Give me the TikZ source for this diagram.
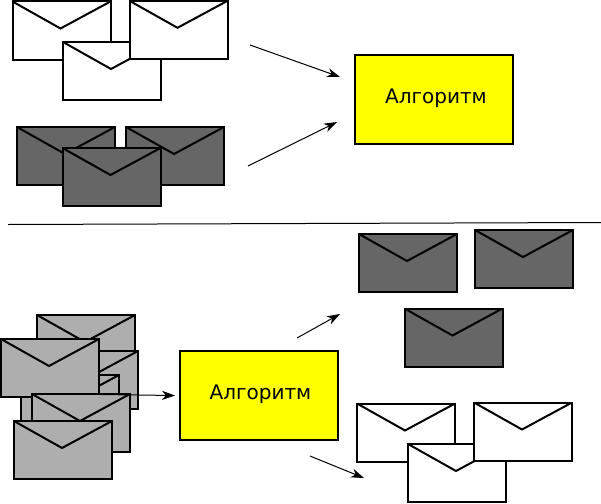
\documentclass[tikz,border=0pt]{standalone}
\usepackage{fontspec}
\setmainfont{DejaVu Sans}
\usetikzlibrary{arrows.meta,calc}
\definecolor{darkenv}{RGB}{102,102,102}
\definecolor{greyenv}{RGB}{174,174,174}
\definecolor{boxyellow}{RGB}{255,255,0}
\tikzset{
  envelope/.style={draw=black,line width=2pt,minimum width=98pt,minimum height=58pt,inner sep=0pt,outer sep=0pt,anchor=north west,
    path picture={\draw[line width=2pt,line join=miter] (path picture bounding box.north west) -- ($(path picture bounding box.north west)+(48pt,-27pt)$) -- (path picture bounding box.north east);}},
  whiteenv/.style={envelope,fill=white},
  darkone/.style={envelope,fill=darkenv},
  greyone/.style={envelope,fill=greyenv},
  algbox/.style={draw=black,line width=2pt,fill=boxyellow,minimum width=158.5pt,minimum height=89pt,inner sep=0pt,outer sep=0pt,anchor=north west},
  algtext/.style={inner sep=0pt,font=\fontsize{20pt}{24pt}\selectfont},
  flow/.style={draw=black,line width=1pt,-{Stealth[length=13pt,width=9pt,inset=4pt]}},
}
\begin{document}
\begin{tikzpicture}[x=1pt,y=-1pt]
\useasboundingbox (0,0) rectangle (601,503);
% top white
\node[whiteenv] (wa) at (12.5,1.5) {};
\node[whiteenv] (wb) at (63,42) {};
\node[whiteenv] (wc) at (129.5,0.8) {};
% top dark
\node[darkone] (da) at (17,127) {};
\node[darkone] (db) at (126,127) {};
\node[darkone] (dc) at (62.5,148) {};
% boxes
\node[algbox] (alg1) at (354.5,55) {};
\node[algtext] (alg1t) at (436,98) {Алгоритм};
\node[algbox] (alg2) at (179.5,351) {};
\node[algtext] (alg2t) at (260.5,394) {Алгоритм};
% separator
\coordinate (sepl) at (8,224.5);
\coordinate (sepr) at (601,222.5);
\draw[line width=1pt] (sepl) -- (sepr);
% grey pile
\node[greyone] (ga) at (37,315) {};
\node[greyone] (gb) at (40,351) {};
\node[greyone] (gc) at (21,375) {};
\node[greyone] (gd) at (1,339) {};
\node[greyone] (ge) at (32,394) {};
\node[greyone] (gf) at (14,421) {};
% right dark
\node[darkone] (ra) at (359,234) {};
\node[darkone] (rb) at (475,230) {};
\node[darkone] (rc) at (404.5,308.5) {};
% right white
\node[whiteenv] (sa) at (357,403.5) {};
\node[whiteenv] (sb) at (408,444) {};
\node[whiteenv] (sc) at (474,402.5) {};
% arrows
\coordinate (a1s) at (250,45); \coordinate (a1e) at (340,77);
\coordinate (a2s) at (248,166); \coordinate (a2e) at (337,122);
\coordinate (a3s) at (100,394.5); \coordinate (a3e) at (175,395.5);
\coordinate (a4s) at (297,338); \coordinate (a4e) at (340,314);
\coordinate (a5s) at (310,456); \coordinate (a5e) at (364,478);
\draw[flow] (a1s) -- (a1e);
\draw[flow] (a2s) -- (a2e);
\draw[flow] (a3s) -- (a3e);
\draw[flow] (a4s) -- (a4e);
\draw[flow] (a5s) -- (a5e);
\end{tikzpicture}
\end{document}
